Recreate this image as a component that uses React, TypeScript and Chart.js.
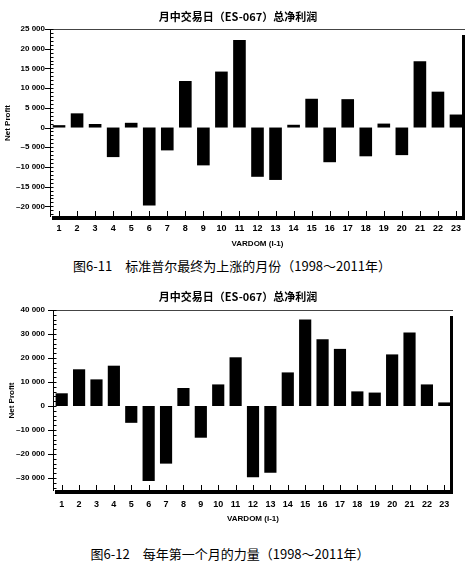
import React, { useEffect, useRef } from "react";
import { Chart, registerables } from "chart.js";

Chart.register(...registerables);

// ---------- data ----------
const categories = [
  "1", "2", "3", "4", "5", "6", "7", "8", "9", "10", "11", "12",
  "13", "14", "15", "16", "17", "18", "19", "20", "21", "22", "23",
];

// Fig 6-11: months where S&P ends up
const profitUpMonths = [
  600, 3600, 900, -7500, 1200, -19800, -5800, 11800, -9600, 14200, 22200,
  -12500, -13300, 700, 7300, -8800, 7200, -7300, 1000, -7000, 16800, 9100, 3300,
];

// Fig 6-12: strength of the first month of the year
const profitFirstMonth = [
  5300, 15300, 11100, 16800, -7000, -31200, -24000, 7500, -13200, 9000, 20300,
  -29700, -27800, 14000, 36000, 27800, 23800, 6100, 5600, 21500, 30600, 9000, 1500,
];

const yTicks1 = [-20000, -15000, -10000, -5000, 0, 5000, 10000, 15000, 20000, 25000];
const yTicks2 = [-30000, -20000, -10000, 0, 10000, 20000, 30000, 40000];

const chartTitle = "月中交易日（ES-067）总净利润";
const caption1 = "图6-11　标准普尔最终为上涨的月份（1998～2011年）";
const caption2 = "图6-12　每年第一个月的力量（1998～2011年）";
const xTitle = "VARDOM (I-1)";
const yTitle = "Net Profit";

const fmt = (v: number) => {
  if (v === 0) return "0";
  const s = String(Math.abs(v)).replace(/\B(?=(\d{3})+(?!\d))/g, " ");
  return (v < 0 ? "–" : "") + s;
};

type Props = {
  top: number;
  height: number;
  values: number[];
  yMin: number;
  yMax: number;
  yTicks: number[];
  minorStep: number;
  axisX: number;
  xAxisH: number;
  rightPad: number;
  areaTop: number;
  labelPad: number;
  yLabelPad: number;
  yTitlePad: number;
  xTitlePadBottom: number;
};

function BarChart(p: Props) {
  const ref = useRef<HTMLCanvasElement | null>(null);
  useEffect(() => {
    if (!ref.current) return;
    const framePlugin = {
      id: "frame",
      afterDatasetsDraw(chart: any) {
        const { ctx, chartArea, scales } = chart;
        const { left, right, top, bottom } = chartArea;
        const x = scales.x;
        const y = scales.y;
        const line = (x1: number, y1: number, x2: number, y2: number) => {
          ctx.beginPath();
          ctx.moveTo(x1, y1);
          ctx.lineTo(x2, y2);
          ctx.stroke();
        };
        ctx.save();
        ctx.lineWidth = 1;
        ctx.strokeStyle = "#444";
        line(left, top + 0.5, right, top + 0.5);
        ctx.strokeStyle = "#000";
        line(left + 0.5, top, left + 0.5, bottom);
        p.yTicks.forEach((t) => {
          const py = Math.round(y.getPixelForValue(t)) + 0.5;
          line(left - 5, py, left + 0.5, py);
        });
        for (let v = Math.ceil(p.yMin / p.minorStep) * p.minorStep; v <= p.yMax; v += p.minorStep) {
          const py = Math.round(y.getPixelForValue(v)) + 0.5;
          line(left, py, left + 3.5, py);
        }
        ctx.lineWidth = 3;
        line(right - 1.5, top + 6, right - 1.5, bottom + 2);
        ctx.lineWidth = 4;
        line(left + 2, bottom + 1, right, bottom + 1);
        ctx.lineWidth = 1;
        categories.forEach((_, i) => {
          const px = Math.round(x.getPixelForValue(i)) + 0.5;
          line(px, bottom - 6, px, bottom + 2);
        });
        ctx.restore();
      },
    };

    const chart = new Chart(ref.current, {
      type: "bar",
      data: {
        labels: categories,
        datasets: [
          {
            data: p.values,
            backgroundColor: "#000",
            borderWidth: 0,
            barPercentage: 0.7,
            categoryPercentage: 1.0,
          },
        ],
      },
      options: {
        responsive: false,
        animation: false,
        layout: { padding: { left: 0, right: p.rightPad, top: p.areaTop, bottom: 0 } },
        plugins: {
          legend: { display: false },
          tooltip: { enabled: false },
          title: { display: false },
        },
        scales: {
          x: {
            type: "category",
            grid: { display: false, drawTicks: false },
            border: { display: false },
            afterFit: (scale: any) => {
              scale.height = p.xAxisH;
            },
            ticks: {
              color: "#000",
              font: { family: "Liberation Sans", size: 9, weight: "bold" },
              padding: p.labelPad,
              maxRotation: 0,
              autoSkip: false,
            },
            title: {
              display: true,
              text: xTitle,
              color: "#000",
              font: { family: "Liberation Sans", size: 8, weight: "bold" },
              padding: { top: 0, bottom: p.xTitlePadBottom },
            },
          },
          y: {
            type: "linear",
            min: p.yMin,
            max: p.yMax,
            grid: { display: false, drawTicks: false },
            border: { display: false },
            afterBuildTicks: (scale: any) => {
              scale.ticks = p.yTicks.map((v) => ({ value: v }));
            },
            afterFit: (scale: any) => {
              scale.width = p.axisX;
            },
            ticks: {
              color: "#000",
              font: { family: "Liberation Sans", size: 8, weight: "bold" },
              padding: p.yLabelPad,
              callback: (v: any) => fmt(Number(v)),
            },
            title: {
              display: true,
              text: yTitle,
              color: "#000",
              font: { family: "Liberation Sans", size: 8, weight: "bold" },
              padding: { top: p.yTitlePad, bottom: 0 },
            },
          },
        },
      },
      plugins: [framePlugin],
    } as any);
    return () => chart.destroy();
  }, []);
  return (
    <canvas
      ref={ref}
      width={470}
      height={p.height}
      style={{ position: "absolute", left: 0, top: p.top, width: 470, height: p.height, display: "block" }}
    />
  );
}

const titleStyle = (top: number, center: number): React.CSSProperties => ({
  position: "absolute",
  top,
  left: 0,
  width: center * 2,
  textAlign: "center",
  fontFamily: "'Noto Sans CJK SC', sans-serif",
  fontWeight: 700,
  fontSize: 11,
  lineHeight: "13px",
  color: "#000",
  whiteSpace: "nowrap",
});

const captionStyle = (top: number, center: number): React.CSSProperties => ({
  position: "absolute",
  top,
  left: 0,
  width: center * 2,
  textAlign: "center",
  fontFamily: "'Noto Sans CJK SC', sans-serif",
  fontWeight: 400,
  fontSize: 13,
  lineHeight: "16px",
  color: "#000",
  whiteSpace: "nowrap",
});

export default function App() {
  return (
    <div
      style={{
        position: "absolute",
        left: 0,
        top: 0,
        width: 470,
        height: 564,
        background: "#fff",
        overflow: "hidden",
      }}
    >
      <BarChart
        top={0}
        height={252}
        values={profitUpMonths}
        yMin={-22700}
        yMax={25000}
        yTicks={yTicks1}
        minorStep={1000}
        axisX={50}
        xAxisH={35}
        rightPad={5}
        areaTop={29}
        labelPad={6}
        yLabelPad={5}
        yTitlePad={3}
        xTitlePadBottom={3}
      />
      <div style={titleStyle(10, 238)}>{chartTitle}</div>
      <div style={captionStyle(258, 232)}>{caption1}</div>

      <BarChart
        top={280}
        height={245}
        values={profitFirstMonth}
        yMin={-35400}
        yMax={40000}
        yTicks={yTicks2}
        minorStep={2000}
        axisX={53}
        xAxisH={34}
        rightPad={17}
        areaTop={30}
        labelPad={8.5}
        yLabelPad={8}
        yTitlePad={7}
        xTitlePadBottom={1}
      />
      <div style={titleStyle(290, 238)}>{chartTitle}</div>
      <div style={captionStyle(546, 230)}>{caption2}</div>
    </div>
  );
}
